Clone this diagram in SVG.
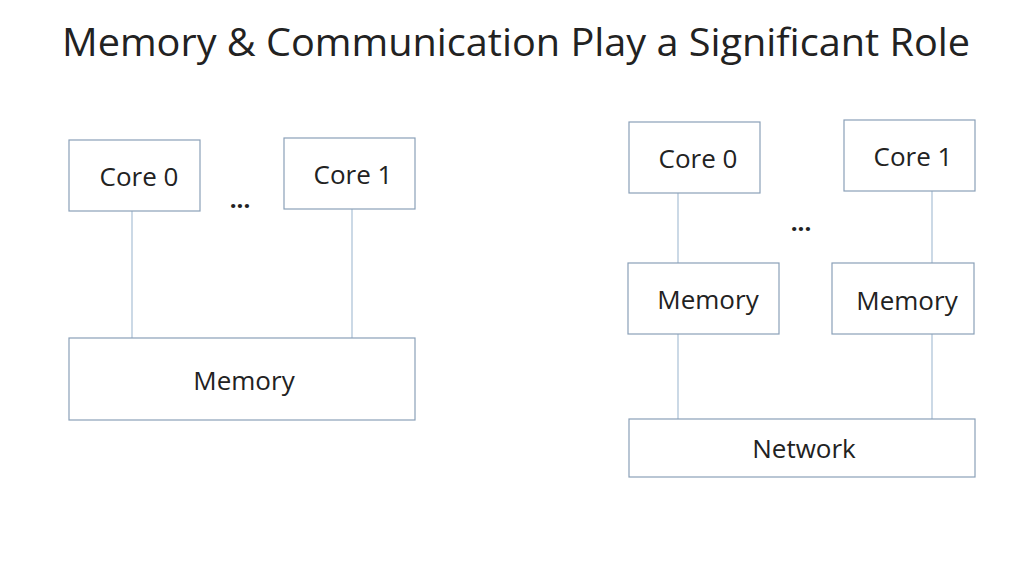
<svg xmlns="http://www.w3.org/2000/svg" width="1024" height="576" viewBox="0 0 1024 576">
<style>
.b{fill:#fff;stroke:#8aa0b8;stroke-width:1.2}
.l{stroke:#a9c0d6;stroke-width:1.2}
text{font-family:"Open Sans","Liberation Sans",sans-serif;fill:#222;font-size:26px;text-anchor:middle}
.d{font-weight:bold;font-size:24px}
.t{font-size:39px}
</style>
<rect width="1024" height="576" fill="#fff"/>
<text class="t" x="516" y="56" textLength="908" lengthAdjust="spacingAndGlyphs">Memory &amp; Communication Play a Significant Role</text>
<g id="connectors">
<line class="l" x1="132" y1="211" x2="132" y2="338"/>
<line class="l" x1="352" y1="209" x2="352" y2="338"/>
<line class="l" x1="678" y1="193" x2="678" y2="263"/>
<line class="l" x1="932" y1="191" x2="932" y2="263"/>
<line class="l" x1="678" y1="334" x2="678" y2="419"/>
<line class="l" x1="932" y1="334" x2="932" y2="419"/>
</g>
<g id="lcore0"><rect class="b" x="69" y="140" width="131" height="71"/><text x="139" y="186">Core 0</text></g>
<g id="lcore1"><rect class="b" x="284" y="138" width="131" height="71"/><text x="353" y="184">Core 1</text></g>
<text class="d" x="240" y="208">...</text>
<g id="lmem"><rect class="b" x="69" y="338" width="346" height="82"/><text x="244" y="390">Memory</text></g>
<g id="rcore0"><rect class="b" x="629" y="122" width="131" height="71"/><text x="698" y="168">Core 0</text></g>
<g id="rcore1"><rect class="b" x="844" y="120" width="131" height="71"/><text x="913" y="166">Core 1</text></g>
<text class="d" x="801" y="231">...</text>
<g id="rmem0"><rect class="b" x="628" y="263" width="151" height="71"/><text x="708" y="309">Memory</text></g>
<g id="rmem1"><rect class="b" x="832" y="263" width="142" height="71"/><text x="907" y="310">Memory</text></g>
<g id="network"><rect class="b" x="629" y="419" width="346" height="58"/><text x="804" y="458">Network</text></g>
</svg>
